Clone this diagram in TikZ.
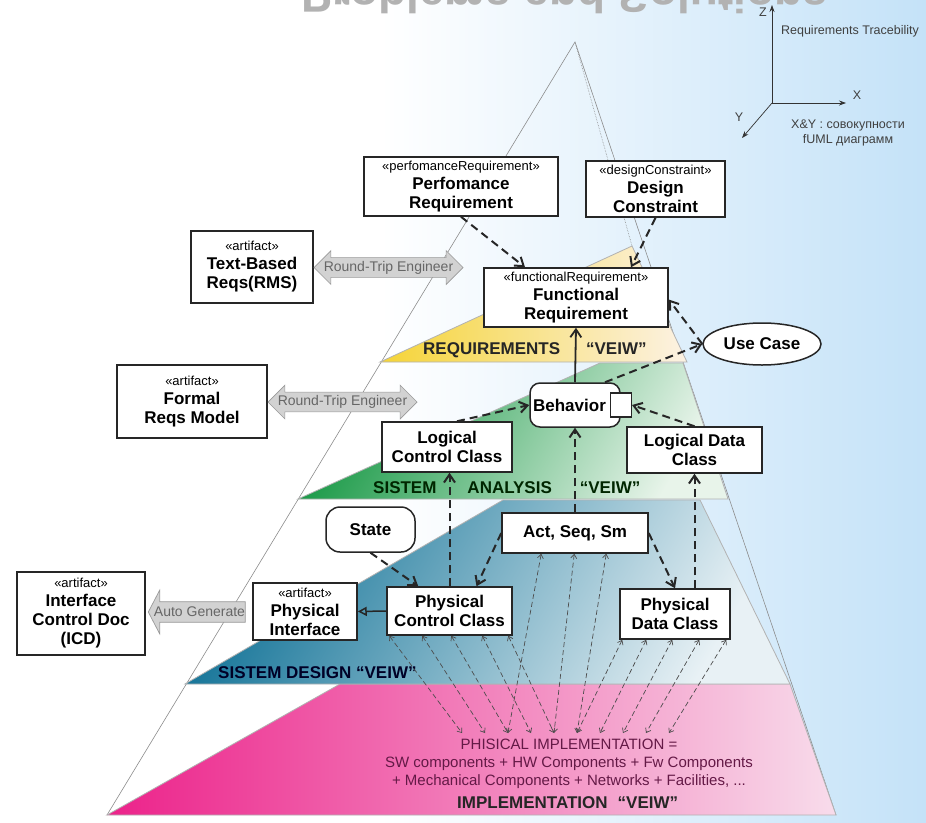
\documentclass[tikz,border=0pt]{standalone}
\usepackage{fontspec}
\setmainfont{Liberation Sans}
\usetikzlibrary{arrows.meta,calc,shapes.geometric,shapes.arrows}

\definecolor{bgblue}{RGB}{196,226,248}
\definecolor{reqyellow}{RGB}{245,212,55}
\definecolor{reqlight}{RGB}{252,242,228}
\definecolor{anagreen}{RGB}{22,152,68}
\definecolor{analight}{RGB}{232,244,234}
\definecolor{desteal}{RGB}{20,116,152}
\definecolor{deslight}{RGB}{232,241,245}
\definecolor{impink}{RGB}{236,34,138}
\definecolor{implight}{RGB}{248,220,235}
\definecolor{arrowgray}{RGB}{210,210,210}
\definecolor{impltext}{RGB}{100,25,70}

\newcommand*{\stereo}[1]{{\fontsize{13}{14}\selectfont\mdseries«#1»}}

\begin{document}
\begin{tikzpicture}[x=1pt,y=-1pt,>={Straight Barb[length=8pt,width=11pt]},
    box/.style={draw=black!85,line width=1.5pt,fill=white,align=center,inner sep=1pt,
      font=\fontsize{17}{19}\selectfont\bfseries},
    dep/.style={->,line width=2pt,dash pattern=on 8pt off 5pt,black!85},
    trace/.style={->,line width=1.8pt,black!85},
    realize/.style={-{Triangle[open,length=9pt,width=9pt]},line width=1.5pt,black!85},
    fan/.style={<->,>={Straight Barb[length=4pt,width=6pt]},line width=0.7pt,
      dash pattern=on 5pt off 3pt,black!70},
    rim/.style={draw=black!45,line width=0.6pt},
    layer/.style={draw=black!30,line width=0.8pt},
    viewlabel/.style={anchor=west,inner sep=0pt,font=\fontsize{17}{19}\selectfont\bfseries},
    roundtrip/.style={double arrow,double arrow head extend=7pt,minimum height=149pt,
      inner xsep=-7pt,inner ysep=3pt,fill=arrowgray,draw=black!40,line width=0.7pt,
      text=black!60,font=\fontsize{14}{16}\selectfont},
    autogen/.style={single arrow,shape border rotate=180,single arrow head extend=11.5pt,
      single arrow tip angle=125,minimum height=97pt,inner xsep=-4pt,inner ysep=5pt,
      fill=arrowgray,draw=black!40,line width=0.7pt,text=black!60,
      font=\fontsize{14}{16}\selectfont},
    axis/.style={-{Stealth[length=7pt,width=5pt]},line width=0.7pt,black!80},
    note/.style={font=\fontsize{12.5}{15}\selectfont,text=black!75,align=center,inner sep=0pt}]

    \useasboundingbox (0,0) rectangle (926,822);
    \fill[white] (0,0) rectangle (926,822);
    \shade[left color=white,right color=bgblue] (380,0) rectangle (926,822);

    \node[font=\fontsize{46}{50}\selectfont\bfseries,text=black!30,yscale=-1,anchor=base]
      (title) at (565,-20) {Problems and Solutions};

    \coordinate (apex) at (575,42);
    \coordinate (baseL) at (107,815);
    \coordinate (baseR) at (836,815);
    \coordinate (reqtop) at (632,246);
    \draw[rim] (baseL) -- (apex) -- (baseR);
    \draw[rim,densely dotted] (apex) -- (reqtop);

    \shade[layer,left color=impink,middle color=impink!85!implight,right color=implight]
      (baseL) -- (340,684) -- (790,684) -- (baseR) -- cycle;
    \shade[layer,top color=desteal,middle color=desteal!85!deslight,bottom color=deslight,shading angle=60]
      (185,684) -- (503,500) -- (700,500) -- (790,684) -- cycle;
    \shade[layer,top color=anagreen,middle color=anagreen!88!analight,bottom color=analight,shading angle=60]
      (298,499) -- (600,363) -- (683,363) -- (728,499) -- cycle;
    \shade[layer,left color=reqyellow,middle color=reqyellow!70!reqlight,right color=reqlight]
      (380,362) -- (reqtop) -- (687,362) -- cycle;

    \node[viewlabel,text=black!85] (reqview) at (423,350) {REQUIREMENTS\hspace{26pt}“VEIW”};
    \node[viewlabel,text=black!85!green] (anaview) at (373,488)
      {SISTEM\hspace{31pt}ANALYSIS\hspace{28pt}“VEIW”};
    \node[viewlabel,text=black!85!blue] (desview) at (218,673) {SISTEM DESIGN “VEIW”};
    \node[viewlabel,text=black!85] (impview) at (457,803) {IMPLEMENTATION\hspace{10pt}“VEIW”};
    \node[align=center,text=impltext,font=\fontsize{15}{18}\selectfont,inner sep=0pt]
      (impdesc) at (569,764) {PHISICAL IMPLEMENTATION =\\SW components + HW Components + Fw Components\\+ Mechanical Components + Networks + Facilities, ...};

    \node[box,minimum width=194pt,minimum height=59pt] (perf) at (461,186.5)
      {\stereo{perfomanceRequirement}\\Perfomance\\Requirement};
    \node[box,minimum width=139pt,minimum height=56pt] (dcon) at (655.5,189)
      {\stereo{designConstraint}\\Design\\Constraint};
    \node[box,minimum width=122pt,minimum height=72pt] (textreq) at (252,267)
      {\stereo{artifact}\\Text-Based\\Reqs(RMS)};
    \node[box,minimum width=184pt,minimum height=59pt] (funreq) at (576,297.5)
      {\stereo{functionalRequirement}\\Functional\\Requirement};
    \node[box,minimum width=150pt,minimum height=73pt] (formal) at (192,401.5)
      {\stereo{artifact}\\Formal\\Reqs Model};
    \node[box,minimum width=130pt,minimum height=50pt] (lcc) at (447,447) {Logical\\Control Class};
    \node[box,rounded corners=10pt,minimum width=90pt,minimum height=44pt] (behav) at (575,405)
      {Behavior\hspace{11pt}\mbox{}};
    \node[box,minimum width=21pt,minimum height=24pt,inner sep=0pt] (pin) at (behav.east) {};
    \node[box,ellipse,minimum width=118pt,minimum height=42pt] (usecase) at (762,344) {Use Case};
    \node[box,minimum width=135pt,minimum height=46pt] (ldc) at (694.5,450) {Logical Data\\Class};
    \node[box,rounded corners=14pt,minimum width=89pt,minimum height=45pt] (state) at (370.5,529.5) {State};
    \node[box,minimum width=146pt,minimum height=40pt] (ass) at (575,533) {Act, Seq, Sm};
    \node[box,minimum width=104pt,minimum height=57pt] (pif) at (305,611.5)
      {\stereo{artifact}\\Physical\\Interface};
    \node[box,minimum width=125pt,minimum height=48pt] (pcc) at (449.5,611) {Physical\\Control Class};
    \node[box,minimum width=110pt,minimum height=50pt] (pdc) at (675,614) {Physical\\Data Class};
    \node[box,minimum width=128pt,minimum height=83pt] (icd) at (81,613.5)
      {\stereo{artifact}\\Interface\\Control Doc\\(ICD)};

    \node[roundtrip] (rt1) at (388.5,267.5) {Round-Trip Engineer};
    \node[roundtrip] (rt2) at (342.5,402) {Round-Trip Engineer};
    \node[autogen] (autogen) at (199.5,612) {Auto Generate};

    \draw[dep] (perf.south) -- ($(funreq.north)+(-51,0)$);
    \draw[dep] (dcon.south) -- ($(funreq.north)+(55,0)$);
    \draw[dep] (usecase.west) -- ($(funreq.east)+(0,2)$);
    \draw[dep] ($(behav.north)+(30,0)$) -- (usecase.west);
    \draw[trace] (behav.north) -- (funreq.south);
    \draw[dep] ($(lcc.north)+(10,0)$) -- (behav.west);
    \draw[dep] (ldc.north) -- (pin.east);
    \draw[dep] (ass.north) -- (behav.south);
    \draw[dep] (pcc.north) -- (pcc.north |- lcc.south);
    \draw[dep] (ldc.south |- pdc.north) -- (ldc.south);
    \draw[dep] (ass.west) -- ($(pcc.north)+(27,0)$);
    \draw[dep] (ass.east) -- (pdc.north);
    \draw[dep] (state.south) -- ($(pcc.north west)+(32,0)$);
    \draw[realize] (pcc.west) -- (pif.east);

    \foreach \i/\x in {1/462,2/485,3/508,4/531,5/554,6/577,7/600,8/623,9/646,10/669}
      \coordinate (imp\i) at (\x,733);
    \foreach \dx/\i in {3/1,36/2,65/3,96/4,122/5}
      \draw[fan] ($(pcc.south west)+(\dx,0)$) -- (imp\i);
    \foreach \dx/\i in {40/3,73/5,105/6}
      \draw[fan] ($(ass.south west)+(\dx,0)$) -- (imp\i);
    \foreach \dx/\i in {3/6,27/7,53/8,80/9,107/10}
      \draw[fan] ($(pdc.south west)+(\dx,0)$) -- (imp\i);

    \coordinate (orig) at (772,103);
    \coordinate (ztip) at (772,5);
    \coordinate (xtip) at (846,103);
    \coordinate (ytip) at (742,138);
    \draw[axis] (orig) -- (ztip);
    \draw[axis] (orig) -- (xtip);
    \draw[axis] (orig) -- (ytip);
    \node[note,anchor=east] (zlabel) at (767,12) {Z};
    \node[note] (xlabel) at (857,95) {X};
    \node[note] (ylabel) at (739,117) {Y};
    \node[note] (tracenote) at (850,31) {Requirements Tracebility};
    \node[note] (xynote) at (848,133) {X\&Y : совокупности\\fUML диаграмм};
\end{tikzpicture}
\end{document}
